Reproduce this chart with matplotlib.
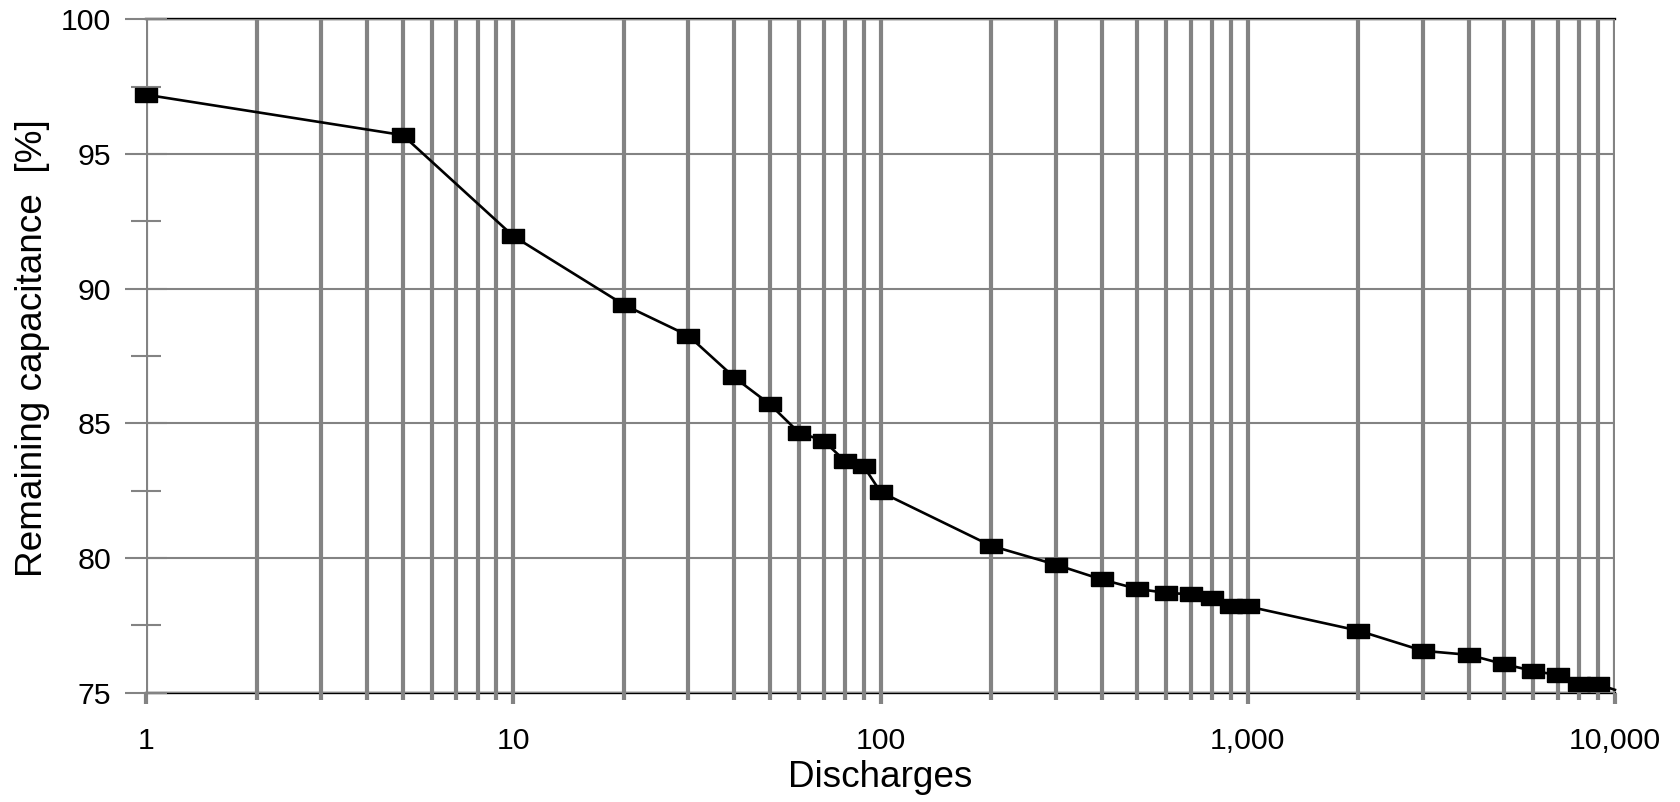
import numpy as np
import matplotlib
matplotlib.use("Agg")
import matplotlib.pyplot as plt
from matplotlib.ticker import LogLocator, MultipleLocator, NullFormatter

plt.rcParams['font.family'] = ['Liberation Sans', 'DejaVu Sans']

# Data
discharges = [1, 5, 10, 20, 30, 40, 50, 60, 70, 80, 90, 100,
              200, 300, 400, 500, 600, 700, 800, 900, 1000,
              2000, 3000, 4000, 5000, 6000, 7000, 8000, 9000, 10000]
capacitance = [97.2, 95.7, 91.95, 89.4, 88.25, 86.7, 85.7, 84.65, 84.35, 83.6, 83.4, 82.45,
               80.45, 79.75, 79.2, 78.85, 78.7, 78.65, 78.5, 78.2, 78.2,
               77.3, 76.55, 76.4, 76.05, 75.8, 75.65, 75.3, 75.3, 75.1]

x_ticks = [1, 10, 100, 1000, 10000]
x_labels = ['1', '10', '100', '1,000', '10,000']
y_ticks = [75, 80, 85, 90, 95, 100]

grid_color = '#838383'

fig = plt.figure(figsize=(16.81, 8.02), dpi=100)
ax = fig.add_axes([0.0869, 0.1365, 0.9607 - 0.0869, 0.9759 - 0.1365])

# rectangular marker, wider than tall
rect = [(-1, -0.6), (1, -0.6), (1, 0.6), (-1, 0.6), (-1, -0.6)]
ax.plot(discharges, capacitance, color='black', lw=1.9, marker=rect, ms=16.5,
        mfc='black', mec='black', markevery=list(range(len(discharges) - 1)),
        zorder=3, clip_on=False)

ax.set_xscale('log')
ax.set_xlim(1, 10000)
ax.set_ylim(75, 100)

ax.set_xticks(x_ticks)
ax.set_xticklabels(x_labels)
ax.xaxis.set_minor_locator(LogLocator(base=10, subs=np.arange(2, 10)))
ax.xaxis.set_minor_formatter(NullFormatter())
ax.set_yticks(y_ticks)
ax.yaxis.set_minor_locator(MultipleLocator(2.5))

ax.set_axisbelow(False)
ax.grid(True, axis='x', which='both', color=grid_color, lw=3.0)
ax.grid(True, axis='y', which='major', color=grid_color, lw=1.5)

ax.tick_params(axis='x', which='major', direction='out', length=7.7, width=3.0,
               color=grid_color, pad=17, labelsize=21.8)
ax.tick_params(axis='x', which='minor', direction='out', length=5.0, width=3.0,
               color=grid_color)
ax.tick_params(axis='y', which='major', direction='inout', length=30, width=1.5,
               color=grid_color, pad=10, labelsize=21.8)
ax.tick_params(axis='y', which='minor', direction='inout', length=21.5, width=1.5,
               color=grid_color)

for side in ['left', 'right']:
    ax.spines[side].set_visible(False)
for side in ['top', 'bottom']:
    ax.spines[side].set_color('black')
    ax.spines[side].set_linewidth(1.7)

ax.set_xlabel('Discharges', fontsize=26.6)
ax.xaxis.set_label_coords(0.5, -0.100)
ax.set_ylabel('Remaining capacitance  [%]', fontsize=26.6)
ax.yaxis.set_label_coords(-0.0655, 0.511)

fig.savefig('out.png', dpi=100)
